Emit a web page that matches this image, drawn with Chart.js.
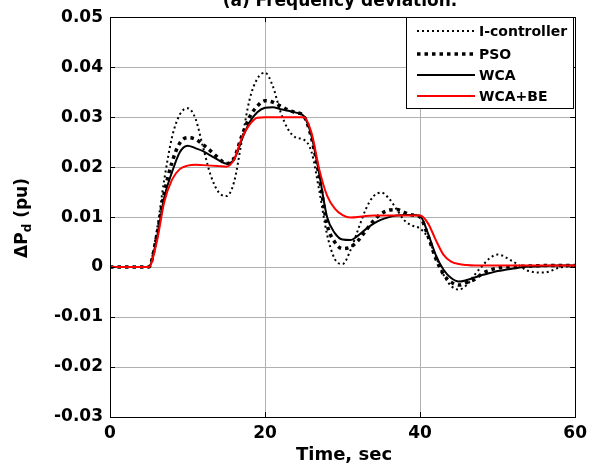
<!DOCTYPE html>
<html><head><meta charset="utf-8">
<script src="https://cdn.jsdelivr.net/npm/chart.js@4/dist/chart.umd.min.js"></script>
<style>html,body{margin:0;padding:0;background:#fff}#c{display:block}</style>
</head><body>
<canvas id="c" width="593" height="464"></canvas>
<script>
const time = [0,5,6,7,8,9,10,11,12,13,14,15,16,17,18,19,20,21,22,23,24,25,26,27,28,29,30,31,32,33,34,35,36,37,38,39,40,41,42,43,44,45,46,47,48,49,50,52,54,56,58,60];
const iController = [0,0,0.007,0.0175,0.026,0.0305,0.0318,0.0298,0.0240,0.0183,0.0150,0.0142,0.0170,0.0253,0.0335,0.0377,0.0389,0.0362,0.0310,0.0275,0.0259,0.0255,0.0230,0.0152,0.0065,0.0016,0.0006,0.0033,0.0075,0.0116,0.0142,0.0149,0.0137,0.0115,0.0093,0.0083,0.0077,0.0059,0.0022,-0.0015,-0.0038,-0.0045,-0.0036,-0.0016,0.0002,0.0018,0.0025,0.0011,-0.0008,-0.0011,-0.0001,0.0003];
const pso = [0,0,0.006,0.0148,0.0210,0.0248,0.0259,0.0256,0.0245,0.0232,0.0218,0.0207,0.0218,0.0262,0.0300,0.0322,0.0333,0.0330,0.0322,0.0314,0.0309,0.0302,0.0258,0.0180,0.0085,0.0050,0.0037,0.0040,0.0053,0.0073,0.0093,0.0107,0.0114,0.0115,0.0109,0.0104,0.0100,0.0063,0.0018,-0.0014,-0.0030,-0.0036,-0.0031,-0.0025,-0.0013,-0.0006,-0.0002,0.0001,0.0002,0.0003,0.0003,0.0003];
const wca = [0,0,0.0055,0.0140,0.0190,0.0230,0.0243,0.0238,0.0232,0.0223,0.0214,0.0207,0.0215,0.0255,0.0290,0.0310,0.0319,0.0320,0.0316,0.0313,0.0309,0.0302,0.0262,0.0185,0.0100,0.0068,0.0055,0.0054,0.0063,0.0076,0.0087,0.0095,0.0100,0.0103,0.0104,0.0104,0.0102,0.0068,0.0025,-0.0005,-0.0022,-0.0029,-0.0026,-0.0021,-0.0016,-0.0012,-0.0008,-0.0003,0.0001,0.0002,0.0003,0.0003];
const wcaBe = [0,0,0.0048,0.0130,0.0175,0.0196,0.0203,0.0205,0.0204,0.0203,0.0202,0.0201,0.0215,0.0258,0.0285,0.0299,0.0300,0.0300,0.0300,0.0300,0.0300,0.0300,0.0268,0.0195,0.0143,0.0117,0.0104,0.0099,0.0100,0.0102,0.0103,0.0103,0.0103,0.0103,0.0103,0.0103,0.0103,0.0088,0.0055,0.0025,0.0011,0.0006,0.0004,0.0003,0.0003,0.0003,0.0003,0.0003,0.0003,0.0003,0.0003,0.0003];
const seriesNames = ['I-controller','PSO','WCA','WCA+BE'];
const xTicks = [0,20,40,60];
const yTicks = [-0.03,-0.02,-0.01,0,0.01,0.02,0.03,0.04,0.05];
const chartTitle = '(a) Frequency deviation.';
const xTitle = 'Time, sec';

const FONT = '"DejaVu Sans", sans-serif';
const styles = [
  {color:'#000', width:2, dash:[2,3]},
  {color:'#000', width:3.5, dash:[3.5,4]},
  {color:'#000', width:2, dash:[]},
  {color:'#ff0000', width:2, dash:[]}
];
const seriesData = [iController, pso, wca, wcaBe];

const datasets = seriesData.map((arr,k)=>({
  label: seriesNames[k],
  data: time.map((t,i)=>({x:t,y:arr[i]})),
  borderColor: styles[k].color,
  borderWidth: styles[k].width,
  borderDash: styles[k].dash,
  pointRadius: 0,
  fill: false,
  cubicInterpolationMode: 'monotone',
  order: 3-k
}));

const decor = {
  id:'decor',
  afterDraw(chart){
    const ctx = chart.ctx, a = chart.chartArea;
    const xs = chart.scales.x, ys = chart.scales.y;
    ctx.save();
    ctx.strokeStyle='#000'; ctx.lineWidth=1; ctx.setLineDash([]);
    ctx.strokeRect(Math.round(a.left)+0.5, Math.round(a.top)+0.5, Math.round(a.right-a.left), Math.round(a.bottom-a.top));
    ctx.beginPath();
    xTicks.forEach(v=>{const px=Math.round(xs.getPixelForValue(v))+0.5;
      ctx.moveTo(px,a.bottom); ctx.lineTo(px,a.bottom-5);
      ctx.moveTo(px,a.top); ctx.lineTo(px,a.top+5);});
    yTicks.forEach(v=>{const py=Math.round(ys.getPixelForValue(v))+0.5;
      ctx.moveTo(a.left,py); ctx.lineTo(a.left+5,py);
      ctx.moveTo(a.right,py); ctx.lineTo(a.right-5,py);});
    ctx.stroke();
    ctx.fillStyle='#000';
    ctx.font='bold 17px '+FONT;
    ctx.textAlign='center'; ctx.textBaseline='alphabetic';
    ctx.fillText(chartTitle, 340, 6);
    ctx.font='bold 18px '+FONT;
    ctx.fillText(xTitle, 344, 460);
    ctx.save();
    ctx.translate(27, 218);
    ctx.rotate(-Math.PI/2);
    ctx.textAlign='left';
    const f1='bold 17px '+FONT, f2='bold 12px '+FONT;
    const p1='\u0394P', p2='d', p3=' (pu)';
    ctx.font=f1; const w1=ctx.measureText(p1).width, w3=ctx.measureText(p3).width;
    ctx.font=f2; const w2=ctx.measureText(p2).width;
    let sx=-(w1+w2+w3)/2;
    ctx.font=f1; ctx.fillText(p1,sx,0); sx+=w1;
    ctx.font=f2; ctx.fillText(p2,sx,4); sx+=w2;
    ctx.font=f1; ctx.fillText(p3,sx,0);
    ctx.restore();
    const lx=406, ly=Math.round(a.top)+0.5, lw=Math.round(a.right)-406-2, lh=91;
    ctx.fillStyle='#fff';
    ctx.fillRect(lx+0.5,ly,lw,lh);
    ctx.strokeStyle='#000'; ctx.lineWidth=1;
    ctx.strokeRect(lx+0.5,ly,lw,lh);
    const rows=[31,54,75,96];
    ctx.font='bold 14px '+FONT; ctx.textAlign='left'; ctx.textBaseline='middle';
    seriesNames.forEach((n,k)=>{
      const y=rows[k];
      ctx.beginPath();
      ctx.strokeStyle=styles[k].color; ctx.lineWidth=styles[k].width; ctx.setLineDash(styles[k].dash);
      ctx.moveTo(417,y); ctx.lineTo(475,y); ctx.stroke();
      ctx.setLineDash([]);
      ctx.fillStyle='#000';
      ctx.fillText(n,479,y+1);
    });
    ctx.restore();
  }
};

new Chart(document.getElementById('c'), {
  type:'line',
  data:{datasets},
  options:{
    responsive:false, animation:false, devicePixelRatio:1,
    layout:{padding:{top:17,right:13,left:0,bottom:0}},
    plugins:{legend:{display:false}, tooltip:{enabled:false}, title:{display:false}},
    scales:{
      x:{type:'linear', min:0, max:60,
        afterBuildTicks(s){s.ticks=xTicks.map(v=>({value:v}));},
        afterFit(s){s.height=47;},
        grid:{color:'#b0b0b0', lineWidth:1, drawTicks:false},
        border:{display:false},
        ticks:{color:'#000', font:{family:FONT, size:17, weight:'bold'}, padding:6, maxRotation:0}
      },
      y:{type:'linear', min:-0.03, max:0.05,
        afterBuildTicks(s){s.ticks=yTicks.map(v=>({value:v}));},
        afterFit(s){s.width=110;},
        grid:{color:'#b0b0b0', lineWidth:1, drawTicks:false},
        border:{display:false},
        ticks:{color:'#000', font:{family:FONT, size:17, weight:'bold'}, padding:7,
          callback:(v)=>{const r=Math.round(v*100)/100; return r===0?'0':r.toFixed(2);}}
      }
    }
  },
  plugins:[decor]
});
</script>
</body></html>
